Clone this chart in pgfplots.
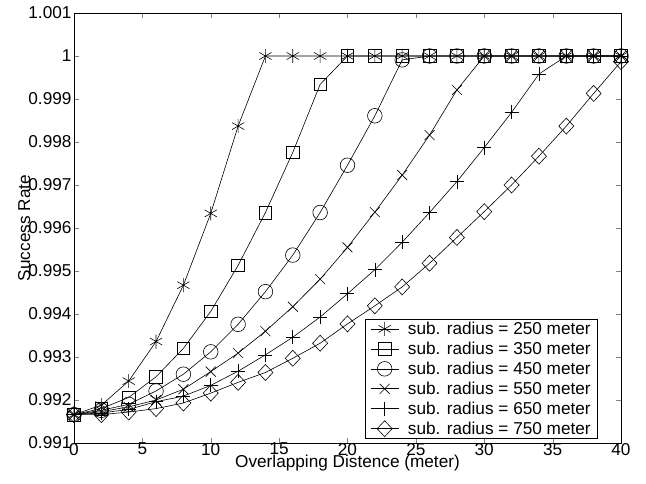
\documentclass[border=0pt]{standalone}
\usepackage{fontspec}
\setmainfont{Liberation Sans}
\usepackage{pgfplots}
\pgfplotsset{compat=1.18}
\usepackage{pgfplotstable}

% success rate vs overlapping distance, one column per sub. radius
\pgfplotstableread{
x  s250    s350    s450    s550    s650    s750
0  0.99166 0.99166 0.99166 0.99166 0.99166 0.99166
2  0.99188 0.99180 0.99176 0.99173 0.99170 0.99166
4  0.99244 0.99206 0.99190 0.99184 0.99178 0.99172
6  0.99336 0.99254 0.99221 0.99200 0.99196 0.99180
8  0.99467 0.99320 0.99260 0.99225 0.99209 0.99193
10 0.99634 0.99406 0.99312 0.99266 0.99234 0.99216
12 0.99837 0.99513 0.99376 0.99309 0.99267 0.99241
14 1       0.99636 0.99452 0.99360 0.99305 0.99264
16 1       0.99776 0.99537 0.99417 0.99346 0.99297
18 1       0.99934 0.99636 0.99481 0.99393 0.99332
20 1       1       0.99746 0.99555 0.99447 0.99377
22 1       1       0.99861 0.99637 0.99503 0.99419
24 1       1       0.99991 0.99723 0.99567 0.99463
26 1       1       1       0.99816 0.99636 0.99518
28 1       1       1       0.99921 0.99708 0.99578
30 1       1       1       1       0.99787 0.99638
32 1       1       1       1       0.99869 0.99700
34 1       1       1       1       0.99958 0.99767
36 1       1       1       1       1       0.99837
38 1       1       1       1       1       0.99913
40 1       1       1       1       1       0.99987
}\success

\newcommand{\lblfont}{\fontsize{17.2}{20.6}\selectfont}

\begin{document}
\begin{tikzpicture}
\begin{axis}[
    at={(0,0)}, anchor=south west,
    scale only axis, width=547pt, height=430pt,
    xmin=0, xmax=40, ymin=0.991, ymax=1.001,
    xtick={0,5,10,15,20,25,30,35,40},
    xticklabels={0,5,10,15,20,25,30,35,40},
    ytick={0.991,0.992,0.993,0.994,0.995,0.996,0.997,0.998,0.999,1,1.001},
    yticklabels={0.991,0.992,0.993,0.994,0.995,0.996,0.997,0.998,0.999,1,1.001},
    tick align=inside, tick pos=both, major tick length=5pt,
    tick label style={font=\lblfont},
    xticklabel style={yshift=3.5pt},
    yticklabel style={xshift=1pt},
    axis line style={line width=0.6pt},
    xlabel={Overlapping Distence (meter)},
    ylabel={Success Rate},
    label style={font=\lblfont},
    xlabel style={at={(axis description cs:0.5,-0.0581)}, anchor=base},
    ylabel style={at={(axis description cs:-0.0804,0.5)}, anchor=base, rotate=0},
    clip=false,
    legend style={at={(0.958,0.0093)}, anchor=south east, draw=black,
        line width=0.6pt, font=\lblfont, inner xsep=5pt, inner ysep=1pt,
        row sep=2pt, column sep=7pt},
    legend cell align=left,
    legend image code/.code={
        \draw[mark repeat=2, mark phase=2] plot coordinates {(0pt,0pt) (14pt,0pt) (28pt,0pt)};
    },
]
\addplot[black, line width=0.6pt, mark=asterisk, mark size=7pt] table[x=x, y=s250] {\success};
\addplot[black, line width=0.6pt, mark=square, mark size=6.3pt] table[x=x, y=s350] {\success};
\addplot[black, line width=0.6pt, mark=o, mark size=7.3pt] table[x=x, y=s450] {\success};
\addplot[black, line width=0.6pt, mark=x, mark size=7pt] table[x=x, y=s550] {\success};
\addplot[black, line width=0.6pt, mark=+, mark size=7pt] table[x=x, y=s650] {\success};
\addplot[black, line width=0.6pt, mark=diamond, mark size=8pt, mark options={xscale=1.25}] table[x=x, y=s750] {\success};
\legend{sub. radius = 250 meter, sub. radius = 350 meter, sub. radius = 450 meter,
    sub. radius = 550 meter, sub. radius = 650 meter, sub. radius = 750 meter}
\end{axis}
\pgfresetboundingbox
\useasboundingbox (-74pt,-41pt) rectangle (572pt,443pt);
\end{tikzpicture}
\end{document}
